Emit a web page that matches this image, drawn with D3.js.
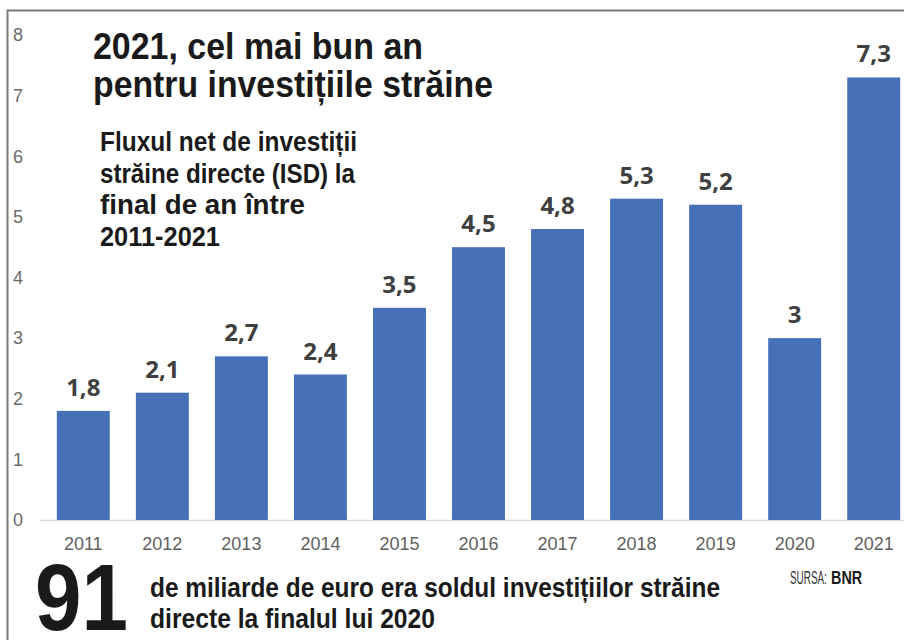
<!DOCTYPE html>
<html>
<head>
<meta charset="utf-8">
<script src="https://cdn.jsdelivr.net/npm/d3@7"></script>
<style>
  body { margin: 0; background: #fff; }
  svg { display: block; }
</style>
</head>
<body>
<div id="chart"></div>
<script>
// Data
var years = ["2011", "2012", "2013", "2014", "2015", "2016", "2017", "2018", "2019", "2020", "2021"];
var values = [1.8, 2.1, 2.7, 2.4, 3.5, 4.5, 4.8, 5.3, 5.2, 3, 7.3];
var yTicks = [0, 1, 2, 3, 4, 5, 6, 7, 8];

var titleLines = ["2021, cel mai bun an", "pentru investițiile străine"];
var subtitleLines = ["Fluxul net de investiții", "străine directe (ISD) la", "final de an între", "2011-2021"];
var noteLines = ["de miliarde de euro era soldul investițiilor străine", "directe la finalul lui 2020"];

var svgWidth = 904;
var svgHeight = 640;

var svg = d3.select("#chart")
  .append("svg")
  .attr("width", svgWidth)
  .attr("height", svgHeight);

// frame (only top and left edges visible)
svg.append("path")
  .attr("d", "M7.5,640 V10.5 H904")
  .attr("fill", "none")
  .attr("stroke", "#7a7a7a")
  .attr("stroke-width", 2);

// scales
var xScale = d3.scaleBand()
  .domain(years)
  .range([41, 916])
  .paddingInner(0.33)
  .paddingOuter(0.2);

var yScale = d3.scaleLinear()
  .domain([0, 8])
  .range([520, 35]);

var narrow = "'Liberation Sans Narrow', 'Liberation Sans', Arial, sans-serif";

// baseline
svg.append("line")
  .attr("x1", 40)
  .attr("x2", 904)
  .attr("y1", yScale(0) + 0.5)
  .attr("y2", yScale(0) + 0.5)
  .attr("stroke", "#d9d9d9")
  .attr("stroke-width", 1.5);

// y axis labels
svg.append("g")
  .selectAll("text")
  .data(yTicks)
  .enter()
  .append("text")
  .attr("x", 18)
  .attr("y", d => yScale(d))
  .attr("dy", "0.35em")
  .attr("text-anchor", "middle")
  .attr("font-family", "'Liberation Sans', Arial, sans-serif")
  .attr("font-size", "18px")
  .attr("fill", "#6a6a6a")
  .text(d => d);

// bars
svg.append("g")
  .selectAll("rect")
  .data(values)
  .enter()
  .append("rect")
  .attr("x", (d, i) => xScale(years[i]))
  .attr("y", d => yScale(d))
  .attr("width", xScale.bandwidth())
  .attr("height", d => yScale(0) - yScale(d))
  .attr("fill", "#4671b8");

// value labels
svg.append("g")
  .selectAll("text")
  .data(values)
  .enter()
  .append("text")
  .attr("x", (d, i) => xScale(years[i]) + xScale.bandwidth() / 2)
  .attr("y", d => yScale(d) - 15)
  .attr("text-anchor", "middle")
  .attr("font-family", "'Open Sans', 'Liberation Sans', sans-serif")
  .attr("font-weight", "bold")
  .attr("font-size", "24px")
  .attr("fill", "#404040")
  .text(d => String(d).replace(".", ","));

// x axis labels
svg.append("g")
  .selectAll("text")
  .data(years)
  .enter()
  .append("text")
  .attr("x", d => xScale(d) + xScale.bandwidth() / 2)
  .attr("y", 550)
  .attr("text-anchor", "middle")
  .attr("font-family", "'Liberation Sans', Arial, sans-serif")
  .attr("font-size", "18px")
  .attr("fill", "#5f5f5f")
  .text(d => d);

// title
var titleWidths = [330, 400];
svg.append("g")
  .selectAll("text")
  .data(titleLines)
  .enter()
  .append("text")
  .attr("x", 93)
  .attr("y", (d, i) => 59 + i * 38)
  .attr("font-family", narrow)
  .attr("font-weight", "bold")
  .attr("font-size", "37px")
  .attr("fill", "#1a1a1a")
  .attr("textLength", (d, i) => titleWidths[i])
  .attr("lengthAdjust", "spacingAndGlyphs")
  .text(d => d);

// subtitle
var subWidths = [257, 255, 205, 120];
svg.append("g")
  .selectAll("text")
  .data(subtitleLines)
  .enter()
  .append("text")
  .attr("x", 100)
  .attr("y", (d, i) => 151 + i * 31.5)
  .attr("font-family", narrow)
  .attr("font-weight", "bold")
  .attr("font-size", "27px")
  .attr("fill", "#1a1a1a")
  .attr("textLength", (d, i) => subWidths[i])
  .attr("lengthAdjust", "spacingAndGlyphs")
  .text(d => d);

// big number
svg.append("text")
  .attr("x", 35)
  .attr("y", 630)
  .attr("font-family", narrow)
  .attr("font-weight", "bold")
  .attr("font-size", "95px")
  .attr("fill", "#1a1a1a")
  .attr("textLength", 93)
  .attr("lengthAdjust", "spacingAndGlyphs")
  .text("91");

// note
var noteWidths = [570, 285];
svg.append("g")
  .selectAll("text")
  .data(noteLines)
  .enter()
  .append("text")
  .attr("x", 150)
  .attr("y", (d, i) => 597 + i * 31)
  .attr("font-family", narrow)
  .attr("font-weight", "bold")
  .attr("font-size", "27px")
  .attr("fill", "#1a1a1a")
  .attr("textLength", (d, i) => noteWidths[i])
  .attr("lengthAdjust", "spacingAndGlyphs")
  .text(d => d);

// source
svg.append("text")
  .attr("transform", "translate(790,584) scale(0.55,1)")
  .attr("font-family", narrow)
  .attr("font-size", "18px")
  .attr("fill", "#333")
  .text("SURSA:");

svg.append("text")
  .attr("transform", "translate(831,584) scale(0.8,1)")
  .attr("font-family", narrow)
  .attr("font-weight", "bold")
  .attr("font-size", "18px")
  .attr("fill", "#1a1a1a")
  .text("BNR");
</script>
</body>
</html>
